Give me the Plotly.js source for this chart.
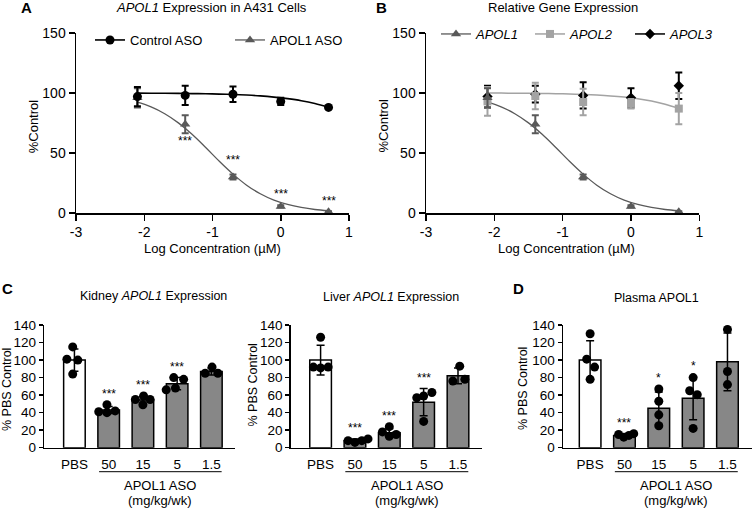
<!DOCTYPE html>
<html><head><meta charset="utf-8">
<script src="https://cdn.plot.ly/plotly-3.0.1.min.js"></script>
<style>html,body{margin:0;padding:0;background:#fff}#chart{width:752px;height:508px}</style>
</head><body><div id="chart"></div>
<script>
// ---------- Panels A & B: dose response (log concentration, µM) ----------
const logConc     = [-2.1, -1.4, -0.7, 0, 0.7];
const controlMean = [97, 98, 99, 93, 88];
const controlErr  = [8, 8, 6.5, 3, 0];
const apol1Mean   = [96, 74, 30, 5.5, 1];
const apol1Err    = [8, 7.5, 2, 1, 0.5];
const apol2Mean   = [93, 97.5, 92.5, 91, 87];
const apol2Err    = [12, 11, 11, 4, 13];
const apol3Mean   = [97, 99, 98, 96, 106];
const apol3Err    = [9, 7, 11, 8, 11];
// fitted curves
const fitX       = [-2.1, -1.9, -1.7, -1.5, -1.3, -1.1, -0.9, -0.7, -0.5, -0.3, -0.1, 0.1, 0.3, 0.5, 0.7];
const controlFit = [99.9, 99.8, 99.8, 99.7, 99.5, 99.4, 99.1, 98.8, 98.3, 97.6, 96.6, 95.3, 93.6, 91.2, 88.0];
const apol1Fit   = [92.3, 88.4, 82.7, 75.1, 65.6, 54.6, 43.1, 32.4, 23.2, 16.0, 10.7, 7.1, 4.6, 2.9, 1.9];
const apol2Fit   = [99.9, 99.9, 99.8, 99.7, 99.6, 99.4, 99.2, 98.8, 98.3, 97.6, 96.6, 95.2, 93.3, 90.6, 87.2];
const xTickVals  = [-3, -2, -1, 0, 1];
const xTickText  = ['-3', '-2', '-1', '0', '1'];

// ---------- Panels C & D: in vivo (% PBS control) ----------
const doseLabels = ['PBS', '50', '15', '5', '1.5'];
const kidneyMean = [100, 43, 54.5, 73, 87];
const kidneySD   = [12.7, 4, 4, 7, 4];
const kidneyPts  = [[115, 101, 100, 84], [49, 41, 40, 42], [59, 55, 55, 49], [80, 78, 66, 68], [92, 85, 85]];
const liverMean  = [100, 8, 17, 52, 82];
const liverSD    = [17, 2, 4.5, 15.5, 9];
const liverPts   = [[126, 92, 91, 92], [8, 6, 8, 10], [24, 18, 15, 13], [57, 59, 63, 30], [93, 76, 78]];
const plasmaMean = [100, 14, 45, 56.5, 98];
const plasmaSD   = [22, 1.7, 18.5, 24.7, 33];
const plasmaPts  = [[130, 101, 92, 78], [15, 12, 14, 16], [67, 53, 37.5, 25], [80, 65, 60.5, 22], [135, 87, 72]];
const kidneyStars = ['', '***', '***', '***', ''];
const liverStars  = ['', '***', '***', '***', ''];
const plasmaStars = ['', '***', '*', '*', ''];
const aStars      = ['', '***', '***', '***', '***'];

// horizontal spread of the dots inside each bar (layout, not data)
const kidneyJit = [[-0.05, -0.22, 0.1, -0.05], [-0.05, -0.29, -0.05, 0.19], [0.02, -0.22, 0.21, 0], [-0.1, 0.19, -0.32, -0.05], [0.02, -0.18, 0.19]];
const liverJit  = [[0, -0.21, 0, 0.22], [-0.2, 0, 0.2, 0.38], [0, -0.2, 0.2, 0], [-0.2, 0, 0.24, 0], [0.05, -0.15, 0.2]];
const plasmaJit = [[0, -0.1, 0.13, 0], [-0.17, -0.02, 0.13, 0.27], [0, 0, 0, 0], [0, -0.1, 0.12, 0], [0, 0, 0]];

const W = 752, H = 508;
const px = x => x / W, py = y => 1 - y / H;
const FONT = 'Liberation Sans, Arial, Helvetica, sans-serif';
const DARK = '#595959', LIGHT = '#a3a3a3', BARGRAY = '#878787';

const traces = [];
const skip = {hoverinfo: 'skip', showlegend: false, cliponaxis: false};

// ----- A -----
traces.push({type: 'scatter', mode: 'lines', x: fitX, y: apol1Fit, line: {color: DARK, width: 1.3, shape: 'spline'}, xaxis: 'x', yaxis: 'y', ...skip});
traces.push({type: 'scatter', mode: 'lines', x: fitX, y: controlFit, line: {color: '#000', width: 1.6, shape: 'spline'}, xaxis: 'x', yaxis: 'y', ...skip});
traces.push({type: 'scatter', mode: 'markers', x: logConc, y: apol1Mean, marker: {symbol: 'triangle-up', size: 9, color: DARK},
  error_y: {type: 'data', array: apol1Err, color: DARK, thickness: 2, width: 3.5}, xaxis: 'x', yaxis: 'y', ...skip});
traces.push({type: 'scatter', mode: 'markers', x: logConc, y: controlMean, marker: {symbol: 'circle', size: 9, color: '#000'},
  error_y: {type: 'data', array: controlErr, color: '#000', thickness: 2, width: 3.5}, xaxis: 'x', yaxis: 'y', ...skip});
traces.push({type: 'scatter', mode: 'lines+markers', name: 'Control ASO', x: [null], y: [null], marker: {symbol: 'circle', size: 9, color: '#000'}, line: {color: '#000', width: 1.6}, xaxis: 'x', yaxis: 'y', legend: 'legend', hoverinfo: 'skip'});
traces.push({type: 'scatter', mode: 'lines+markers', name: 'APOL1 ASO', x: [null], y: [null], marker: {symbol: 'triangle-up', size: 9, color: DARK}, line: {color: DARK, width: 1.3}, xaxis: 'x', yaxis: 'y', legend: 'legend2', hoverinfo: 'skip'});

// ----- B -----
traces.push({type: 'scatter', mode: 'lines', x: fitX, y: apol2Fit, line: {color: LIGHT, width: 1.5, shape: 'spline'}, xaxis: 'x2', yaxis: 'y2', ...skip});
traces.push({type: 'scatter', mode: 'lines', x: fitX, y: apol1Fit, line: {color: DARK, width: 1.3, shape: 'spline'}, xaxis: 'x2', yaxis: 'y2', ...skip});
traces.push({type: 'scatter', mode: 'markers', x: logConc, y: apol3Mean, marker: {symbol: 'diamond', size: 8, color: '#000'},
  error_y: {type: 'data', array: apol3Err, color: '#000', thickness: 2, width: 3.5}, xaxis: 'x2', yaxis: 'y2', ...skip});
traces.push({type: 'scatter', mode: 'markers', x: logConc, y: apol2Mean, marker: {symbol: 'square', size: 8, color: LIGHT},
  error_y: {type: 'data', array: apol2Err, color: LIGHT, thickness: 2, width: 3.5}, xaxis: 'x2', yaxis: 'y2', ...skip});
traces.push({type: 'scatter', mode: 'markers', x: logConc, y: apol1Mean, marker: {symbol: 'triangle-up', size: 9, color: DARK},
  error_y: {type: 'data', array: apol1Err, color: DARK, thickness: 2, width: 3.5}, xaxis: 'x2', yaxis: 'y2', ...skip});
traces.push({type: 'scatter', mode: 'lines+markers', name: 'APOL1', x: [null], y: [null], marker: {symbol: 'triangle-up', size: 9, color: DARK}, line: {color: DARK, width: 1.3}, xaxis: 'x2', yaxis: 'y2', legend: 'legend3', hoverinfo: 'skip'});
traces.push({type: 'scatter', mode: 'lines+markers', name: 'APOL2', x: [null], y: [null], marker: {symbol: 'square', size: 8, color: LIGHT}, line: {color: LIGHT, width: 1.5}, xaxis: 'x2', yaxis: 'y2', legend: 'legend4', hoverinfo: 'skip'});
traces.push({type: 'scatter', mode: 'lines+markers', name: 'APOL3', x: [null], y: [null], marker: {symbol: 'diamond', size: 8, color: '#000'}, line: {color: '#000', width: 1.5}, xaxis: 'x2', yaxis: 'y2', legend: 'legend5', hoverinfo: 'skip'});

// ----- bar panels -----
function barPanel(mean, sd, pts, jit, xa, ya) {
  const idx = doseLabels.map((_, i) => i);
  traces.push({type: 'bar', x: idx, y: mean, width: 0.63,
    marker: {color: idx.map(i => i === 0 ? '#ffffff' : BARGRAY), line: {color: '#000', width: 1.5}},
    error_y: {type: 'data', array: sd, color: '#000', thickness: 1.5, width: 4},
    xaxis: xa, yaxis: ya, ...skip});
  const dx = [], dy = [];
  pts.forEach((g, i) => g.forEach((v, j) => { dx.push(i + jit[i][j]); dy.push(v); }));
  traces.push({type: 'scatter', mode: 'markers', x: dx, y: dy, marker: {color: '#000', size: 9},
    xaxis: xa, yaxis: ya, ...skip});
}
barPanel(kidneyMean, kidneySD, kidneyPts, kidneyJit, 'x3', 'y3');
barPanel(liverMean, liverSD, liverPts, liverJit, 'x4', 'y4');
barPanel(plasmaMean, plasmaSD, plasmaPts, plasmaJit, 'x5', 'y5');

// ----- axes -----
const axBase = {showgrid: false, zeroline: false, showline: true, linecolor: '#000', linewidth: 1.5,
  ticks: 'outside', tickcolor: '#000', tickwidth: 1.5, color: '#000', fixedrange: true, automargin: false};
const curveX = (dom, anchor) => ({...axBase, domain: dom, range: [-3, 1], tickmode: 'array', tickvals: xTickVals, ticktext: xTickText, ticklen: 6, tickfont: {size: 14}, anchor});
const curveY = (anchor) => ({...axBase, domain: [py(213), py(33)], range: [0, 150], tickmode: 'array', tickvals: [0, 50, 100, 150], ticklen: 6, tickfont: {size: 14}, anchor});
const barX = (dom, rng, anchor) => ({...axBase, domain: dom, range: rng, tickmode: 'array', tickvals: [0, 1, 2, 3, 4], ticktext: doseLabels, ticks: '', ticklabelstandoff: 4, tickfont: {size: 13.5}, anchor});
const barY = (anchor) => ({...axBase, domain: [py(447.7), py(325)], range: [0, 140], dtick: 20, tick0: 0, ticklen: 4, tickfont: {size: 13.5}, anchor});

const legBase = (cx, cy, italic) => ({x: px(cx), y: py(cy), xanchor: 'left', yanchor: 'middle', orientation: 'h',
  bgcolor: 'rgba(0,0,0,0)', borderwidth: 0, itemclick: false, itemdoubleclick: false,
  font: {family: FONT, size: 13, color: '#000', style: italic ? 'italic' : 'normal'}});

const ann = [];
const txt = (text, x, y, size, extra) => ann.push(Object.assign({text, x: px(x), y: py(y), xref: 'paper', yref: 'paper',
  showarrow: false, xanchor: 'center', yanchor: 'middle', font: {family: FONT, size, color: '#000'}}, extra || {}));

txt('<b>A</b>', 26, 8, 15);
txt('<b>B</b>', 381, 8, 15);
txt('<b>C</b>', 7, 288, 15);
txt('<b>D</b>', 518, 288, 15);
txt('<i>APOL1</i> Expression in A431 Cells', 211.7, 7.5, 13);
txt('Relative Gene Expression', 562.7, 7.5, 13);
txt('Kidney <i>APOL1</i> Expression', 153.3, 296, 12.5);
txt('Liver <i>APOL1</i> Expression', 390.8, 296.7, 12.5);
txt('Plasma APOL1', 656.7, 298.3, 12.5);
txt('Log Concentration (\u00b5M)', 212.2, 248.3, 13);
txt('Log Concentration (\u00b5M)', 566, 248.3, 13);
txt('%Control', 33.3, 126, 13, {textangle: -90});
txt('%Control', 382.5, 126, 13, {textangle: -90});
txt('% PBS Control', 7, 390, 12.5, {textangle: -90});
txt('% PBS Control', 252.5, 385, 12.5, {textangle: -90});
txt('% PBS Control', 523, 389, 12.5, {textangle: -90});

const shapes = [];
['x3', 'x4', 'x5'].forEach((xa) => {
  shapes.push({type: 'line', xref: xa, yref: 'paper', x0: 0.72, x1: 4.3, y0: py(471.7), y1: py(471.7), line: {color: '#000', width: 1}});
  ann.push({text: 'APOL1 ASO', x: 2.51, y: py(485.5), xref: xa, yref: 'paper', showarrow: false, xanchor: 'center', yanchor: 'middle', font: {family: FONT, size: 13, color: '#000'}});
  ann.push({text: '(mg/kg/wk)', x: 2.51, y: py(500.5), xref: xa, yref: 'paper', showarrow: false, xanchor: 'center', yanchor: 'middle', font: {family: FONT, size: 13, color: '#000'}});
});

function starRow(stars, mean, sd, pts, xa, ya) {
  stars.forEach((s, i) => {
    if (!s) return;
    const top = Math.max(mean[i] + sd[i], ...pts[i]);
    ann.push({text: s, x: i, y: top, xref: xa, yref: ya, showarrow: false, xanchor: 'center', yanchor: 'middle', yshift: 11,
      font: {family: FONT, size: 12, color: '#000'}});
  });
}
starRow(kidneyStars, kidneyMean, kidneySD, kidneyPts, 'x3', 'y3');
starRow(liverStars, liverMean, liverSD, liverPts, 'x4', 'y4');
starRow(plasmaStars, plasmaMean, plasmaSD, plasmaPts, 'x5', 'y5');
const aShift = [0, -17, 17, 12, 11];
aStars.forEach((s, i) => {
  if (!s) return;
  ann.push({text: s, x: logConc[i], y: apol1Mean[i], xref: 'x', yref: 'y', showarrow: false, xanchor: 'center', yanchor: 'middle', yshift: aShift[i],
    font: {family: FONT, size: 12, color: '#000'}});
});

const layout = {
  width: W, height: H, margin: {l: 0, r: 0, t: 0, b: 0, pad: 0, autoexpand: false}, paper_bgcolor: '#fff', plot_bgcolor: 'rgba(0,0,0,0)',
  font: {family: FONT, color: '#000', size: 13},
  showlegend: true, bargap: 0, hovermode: false,
  xaxis: curveX([px(76), px(349)], 'y'), yaxis: curveY('x'),
  xaxis2: curveX([px(426), px(699.3)], 'y2'), yaxis2: curveY('x2'),
  xaxis3: barX([px(44.3), px(235)], [-0.88, 4.69], 'y3'), yaxis3: barY('x3'),
  xaxis4: barX([px(290.7), px(481.7)], [-0.87, 4.69], 'y4'), yaxis4: barY('x4'),
  xaxis5: barX([px(563), px(751.5)], [-0.79, 4.7], 'y5'), yaxis5: barY('x5'),
  legend: legBase(95 - 5, 40, false),
  legend2: legBase(235 - 5, 40, false),
  legend3: legBase(441 - 5, 34, true),
  legend4: legBase(535 - 5, 34, true),
  legend5: legBase(635 - 5, 34, true),
  annotations: ann, shapes
};

Plotly.newPlot('chart', traces, layout, {staticPlot: true, displayModeBar: false});
</script></body></html>
